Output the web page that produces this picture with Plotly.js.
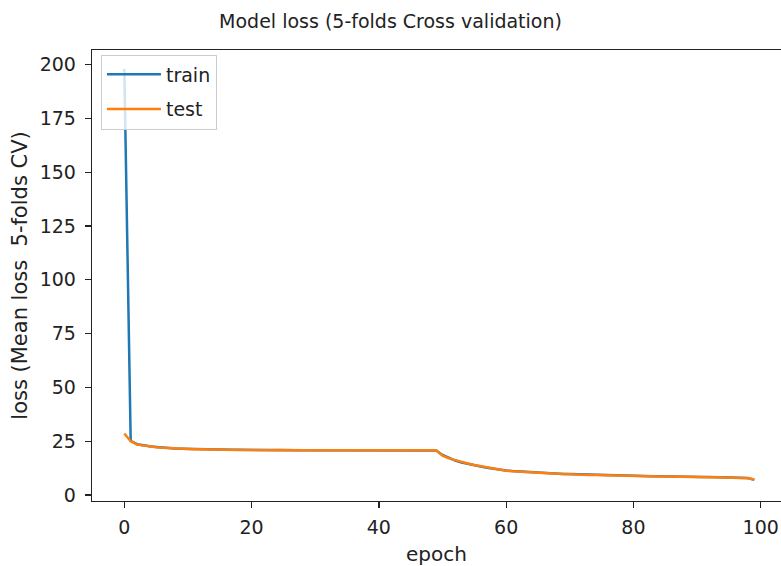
<!DOCTYPE html>
<html>
<head>
<meta charset="utf-8">
<script src="https://cdn.plot.ly/plotly-3.0.1.min.js"></script>
<style>html,body{margin:0;padding:0;background:#fff;}#chart{width:781px;height:566px;}</style>
</head>
<body>
<div id="chart"></div>
<script>
const epochs = Array.from({length: 100}, (_, i) => i);
const trainLoss = [
  198.0, 25.2, 23.6, 23.0, 22.6, 22.3, 22.0, 21.8, 21.6, 21.5,
  21.4, 21.3, 21.2, 21.2, 21.1, 21.1, 21.0, 21.0, 21.0, 20.9,
  20.9, 20.9, 20.9, 20.9, 20.8, 20.9, 20.8, 20.8, 20.8, 20.8,
  20.8, 20.8, 20.9, 20.8, 20.8, 20.8, 20.9, 20.8, 20.8, 20.8,
  20.8, 20.8, 20.8, 20.8, 20.8, 20.8, 20.8, 20.8, 20.8, 20.7,
  18.6, 17.2, 16.0, 15.1, 14.4, 13.8, 13.2, 12.7, 12.2, 11.8,
  11.4, 11.1, 10.9, 10.7, 10.5, 10.3, 10.2, 10.0, 9.9, 9.8,
  9.7, 9.6, 9.5, 9.4, 9.3, 9.2, 9.2, 9.1, 9.0, 9.0,
  8.9, 8.9, 8.8, 8.7, 8.7, 8.6, 8.6, 8.5, 8.5, 8.4,
  8.4, 8.3, 8.3, 8.2, 8.2, 8.1, 8.1, 8.0, 7.9, 7.0
];
const testLoss = [
  28.6, 25.0, 23.4, 22.9, 22.5, 22.2, 21.9, 21.7, 21.6, 21.4,
  21.3, 21.2, 21.2, 21.1, 21.1, 21.0, 21.0, 20.9, 20.9, 20.9,
  20.8, 20.9, 20.8, 20.8, 20.9, 20.8, 20.8, 20.9, 20.8, 20.8,
  20.8, 20.9, 20.8, 20.8, 20.9, 20.8, 20.8, 20.8, 20.9, 20.8,
  20.8, 20.7, 20.8, 20.8, 20.9, 20.8, 20.8, 20.8, 20.8, 20.8,
  18.3, 17.0, 16.2, 15.3, 14.6, 13.9, 13.4, 12.6, 12.1, 11.7,
  11.3, 11.0, 10.8, 10.6, 10.4, 10.3, 10.1, 10.0, 9.9, 9.8,
  9.6, 9.5, 9.4, 9.3, 9.3, 9.2, 9.1, 9.0, 9.0, 8.9,
  8.9, 8.8, 8.8, 8.7, 8.6, 8.6, 8.5, 8.5, 8.4, 8.4,
  8.3, 8.3, 8.2, 8.2, 8.1, 8.1, 8.0, 8.0, 7.8, 7.2
];
const xTicks = [0, 20, 40, 60, 80, 100];
const yTicks = [0, 25, 50, 75, 100, 125, 150, 175, 200];

const FONT = 'DejaVu Sans, sans-serif';
const INK = '#222';

const traces = [
  {x: epochs, y: trainLoss, name: 'train', mode: 'lines', legendgroup: 'g1',
   line: {color: '#1f77b4', width: 2.5}},
  {x: epochs, y: testLoss, name: 'test', mode: 'lines', legendgroup: 'g2',
   line: {color: '#ff7f0e', width: 2.5}}
];

const layout = {
  width: 781, height: 566,
  margin: {l: 92, r: 0, t: 50, b: 65},
  paper_bgcolor: '#fff', plot_bgcolor: '#fff',
  font: {family: FONT, size: 19, color: INK},
  showlegend: true,
  title: {text: 'Model loss (5-folds Cross validation)', font: {family: FONT, size: 19, color: INK},
          xref: 'container', x: 0.5, xanchor: 'center', yref: 'container', y: 0.962, yanchor: 'middle'},
  xaxis: {
    range: [-5.08, 103.19], tickvals: xTicks, ticktext: xTicks.map(String),
    showgrid: false, zeroline: false, showline: true, linecolor: INK, linewidth: 1.3,
    mirror: true, ticks: 'outside', ticklen: 6, tickcolor: INK, tickwidth: 1.3,
    ticklabelstandoff: 3,
    tickfont: {family: FONT, size: 19, color: INK},
    title: {text: 'epoch', font: {family: FONT, size: 20, color: INK}, standoff: 12}
  },
  yaxis: {
    range: [-2.8, 206.8], tickvals: yTicks, ticktext: yTicks.map(String),
    showgrid: false, zeroline: false, showline: true, linecolor: INK, linewidth: 1.3,
    ticks: 'outside', ticklen: 6, tickcolor: INK, tickwidth: 1.3,
    ticklabelstandoff: 5,
    tickfont: {family: FONT, size: 19, color: INK},
    title: {text: 'loss (Mean loss\u00a0\u00a05-folds CV)', font: {family: FONT, size: 21, color: INK}, standoff: 6}
  },
  legend: {
    x: 0.013, y: 0.99, xanchor: 'left', yanchor: 'top',
    bgcolor: 'rgba(255,255,255,0.8)', bordercolor: '#cccccc', borderwidth: 1,
    itemwidth: 54, tracegroupgap: 7,
    font: {family: FONT, size: 19, color: INK}
  }
};

Plotly.newPlot('chart', traces, layout, {staticPlot: true, displayModeBar: false});
</script>
</body>
</html>
